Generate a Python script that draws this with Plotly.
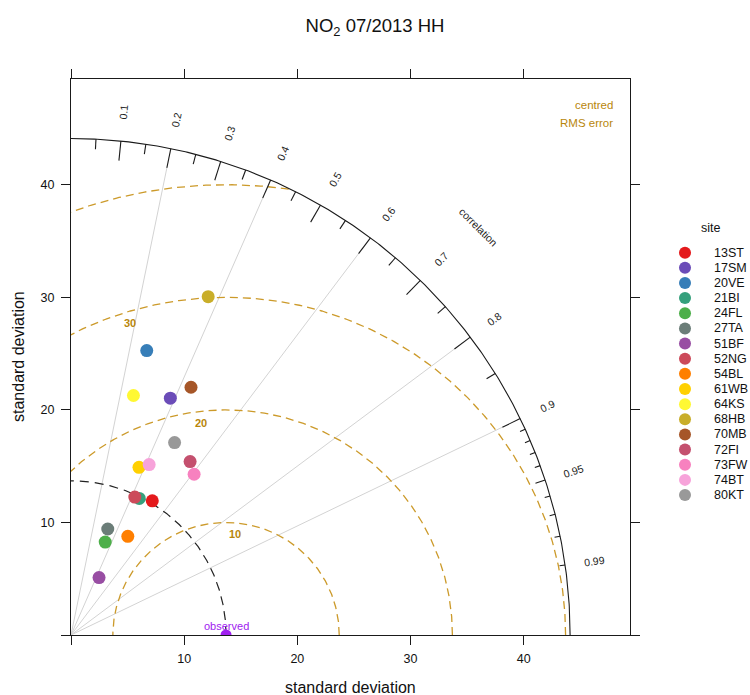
import numpy as np
import plotly.graph_objects as go

# ---------------- data ----------------
sites = ["13ST", "17SM", "20VE", "21BI", "24FL", "27TA", "51BF", "52NG", "54BL",
         "61WB", "64KS", "68HB", "70MB", "72FI", "73FW", "74BT", "80KT"]
sd_model = [13.92, 22.80, 26.14, 13.55, 8.79, 9.96, 5.67, 13.49, 10.10,
            16.06, 21.98, 32.41, 24.43, 18.66, 17.95, 16.64, 19.39]
corr_model = [0.516, 0.385, 0.256, 0.445, 0.344, 0.326, 0.437, 0.418, 0.497,
              0.374, 0.251, 0.374, 0.434, 0.564, 0.606, 0.415, 0.472]
site_colors = ["#E41A1C", "#6B4CB8", "#377EB8", "#35A07C", "#4DAF4A", "#6B7D78",
               "#984EA3", "#CC4A5A", "#FF7F00", "#FFD000", "#FFF833", "#C9AE2A",
               "#A65628", "#C4506E", "#F781BF", "#F7A3DA", "#999999"]
sd_obs = 13.7
sd_max = 44.1
rms_levels = [10, 20, 30, 40]
rms_label_levels = [10, 20, 30]
rms_label_angles = [85, 96.6, 107]
corr_label_vals = [0.1, 0.2, 0.3, 0.4, 0.5, 0.6, 0.7, 0.8, 0.9, 0.95, 0.99]
corr_major = [0.1, 0.2, 0.3, 0.4, 0.5, 0.6, 0.7, 0.8, 0.9]
corr_minor = [0.05, 0.15, 0.25, 0.35, 0.45, 0.55, 0.65, 0.75, 0.85, 0.95]
corr_fine = [0.91, 0.92, 0.93, 0.94, 0.96, 0.97, 0.98, 0.99]
corr_lines = [0.2, 0.4, 0.6, 0.8, 0.9]
axis_ticks = [0, 10, 20, 30, 40]
axis_ticktext = ["", "10", "20", "30", "40"]

W, H = 750, 695
FONT = "Liberation Sans, Arial, sans-serif"
GOLD = "#B8860B"
GOLD_LINE = "#CC9A2A"
INK = "#1a1a1a"

# plot area in pixels
L, R, T, B = 71, 630, 79, 635
xdom = [L / W, R / W]
ydom = [(H - B) / H, (H - T) / H]
rng = [0, 1.12 * sd_max]

fig = go.Figure()

# radial correlation lines
maj_len, min_len, fine_len = 1.75, 0.9, 0.5
lx, ly = [], []
for c in corr_lines:
    th = np.arccos(c)
    lx += [0, (sd_max - maj_len) * np.cos(th), None]
    ly += [0, (sd_max - maj_len) * np.sin(th), None]
fig.add_trace(go.Scatter(x=lx, y=ly, mode="lines", line=dict(color="#D3D3D3", width=1),
                         hoverinfo="skip", showlegend=False))

# centred RMS error contours
phi = np.linspace(0, np.pi, 600)
for lev in rms_levels:
    cx = sd_obs + lev * np.cos(phi)
    cy = lev * np.sin(phi)
    rr = np.sqrt(cx ** 2 + cy ** 2)
    cx = np.where(rr <= sd_max, cx, np.nan)
    cy = np.where(rr <= sd_max, cy, np.nan)
    fig.add_trace(go.Scatter(x=cx, y=cy, mode="lines",
                             line=dict(color=GOLD_LINE, width=1.3, dash="8px,5px"),
                             connectgaps=False, hoverinfo="skip", showlegend=False))

# observed sd arc
th = np.linspace(0, np.pi / 2, 300)
fig.add_trace(go.Scatter(x=sd_obs * np.cos(th), y=sd_obs * np.sin(th), mode="lines",
                         line=dict(color="#222222", width=1.2, dash="9px,6px"),
                         hoverinfo="skip", showlegend=False))

# outer arc
fig.add_trace(go.Scatter(x=sd_max * np.cos(th), y=sd_max * np.sin(th), mode="lines",
                         line=dict(color=INK, width=1.1), hoverinfo="skip", showlegend=False))

# correlation ticks
tx, ty = [], []
for vals, ln in ((corr_major, maj_len), (corr_minor, min_len), (corr_fine, fine_len)):
    for c in vals:
        a = np.arccos(c)
        tx += [sd_max * np.cos(a), (sd_max - ln) * np.cos(a), None]
        ty += [sd_max * np.sin(a), (sd_max - ln) * np.sin(a), None]
fig.add_trace(go.Scatter(x=tx, y=ty, mode="lines", line=dict(color=INK, width=1.1),
                         hoverinfo="skip", showlegend=False))

# observed point
fig.add_trace(go.Scatter(x=[sd_obs], y=[0], mode="markers",
                         marker=dict(color="#A020F0", size=11, line=dict(width=0)),
                         hoverinfo="skip", showlegend=False, cliponaxis=True))

# model points
for s, sd, cr, col in zip(sites, sd_model, corr_model, site_colors):
    a = np.arccos(cr)
    fig.add_trace(go.Scatter(x=[sd * np.cos(a)], y=[sd * np.sin(a)], mode="markers",
                             name=s, marker=dict(color=col, size=13, line=dict(width=0)),
                             showlegend=False))

# legend drawn on its own small axis
n = len(sites)
fig.add_trace(go.Scatter(x=[25] * n, y=list(range(n)), mode="markers", xaxis="x2", yaxis="y2",
                         marker=dict(color=site_colors, size=12, line=dict(width=0)),
                         hoverinfo="skip", showlegend=False))

annotations = []
for i, s in enumerate(sites):
    annotations.append(dict(x=52, y=i, xref="x2", yref="y2", text=s, showarrow=False,
                            xanchor="left", yanchor="middle",
                            font=dict(family=FONT, size=12.5, color="#111")))
# correlation labels
r_lab = 1.06 * sd_max
for c in corr_label_vals:
    a = np.arccos(c)
    annotations.append(dict(x=r_lab * np.cos(a), y=r_lab * np.sin(a), xref="x", yref="y",
                            text=f"{c:g}", showarrow=False, textangle=-np.degrees(a),
                            font=dict(family=FONT, size=10.5, color="#222"),
                            xanchor="center", yanchor="middle"))
a_corr = np.radians(45.2)
annotations.append(dict(x=51.1 * np.cos(a_corr), y=51.1 * np.sin(a_corr), xref="x", yref="y",
                        text="correlation", showarrow=False, textangle=90 - 45.2,
                        font=dict(family=FONT, size=10.5, color="#222"),
                        xanchor="center", yanchor="middle"))
# rms contour labels
for lev, ang in zip(rms_label_levels, rms_label_angles):
    a = np.radians(ang)
    annotations.append(dict(x=sd_obs + (lev - 1) * np.cos(a), y=(lev - 1) * np.sin(a),
                            xref="x", yref="y", text=f"<b>{lev}</b>", showarrow=False,
                            font=dict(family=FONT, size=11, color=GOLD),
                            xanchor="center", yanchor="middle"))
# observed label
annotations.append(dict(x=sd_obs, y=0, xref="x", yref="y", text="observed", showarrow=False,
                        yshift=9, font=dict(family=FONT, size=11, color="#A020F0"),
                        xanchor="center", yanchor="middle"))
# centred RMS error note
annotations.append(dict(x=615 / W, y=(H - 105) / H, xref="paper", yref="paper", text="centred",
                        showarrow=False, xanchor="right", yanchor="middle",
                        font=dict(family=FONT, size=11.5, color=GOLD)))
annotations.append(dict(x=615 / W, y=(H - 123) / H, xref="paper", yref="paper", text="RMS error",
                        showarrow=False, xanchor="right", yanchor="middle",
                        font=dict(family=FONT, size=11.5, color=GOLD)))
# axis titles
annotations.append(dict(x=(L + R) / 2 / W, y=(H - 687) / H, xref="paper", yref="paper",
                        text="standard deviation", showarrow=False, xanchor="center",
                        yanchor="middle", font=dict(family=FONT, size=16, color="#111")))
annotations.append(dict(x=18 / W, y=(H - (T + B) / 2) / H, xref="paper", yref="paper",
                        text="standard deviation", showarrow=False, textangle=-90,
                        xanchor="center", yanchor="middle",
                        font=dict(family=FONT, size=16, color="#111")))
# legend title
annotations.append(dict(x=711 / W, y=(H - 228) / H, xref="paper", yref="paper", text="site",
                        showarrow=False, xanchor="center", yanchor="middle",
                        font=dict(family=FONT, size=12.5, color="#111")))

axis_common = dict(range=rng, tickvals=axis_ticks, ticktext=axis_ticktext, ticks="outside",
                   ticklen=9, tickcolor=INK, tickwidth=1, showline=True, linecolor=INK,
                   linewidth=1, mirror="ticks", showgrid=False, zeroline=False,
                   tickfont=dict(family=FONT, size=12.5, color="#111"), automargin=False,
                   fixedrange=True)

leg_top, leg_bot = 245.1, 502.6
fig.update_layout(
    width=W, height=H,
    margin=dict(l=0, r=0, t=0, b=0),
    paper_bgcolor="white", plot_bgcolor="white",
    showlegend=False,
    title=dict(text="NO<sub>2</sub> 07/2013 HH", x=0.5, xref="paper", xanchor="center",
               y=1 - 26 / H, yref="container", yanchor="middle",
               font=dict(family=FONT, size=18.5, color="#111")),
    xaxis=dict(domain=xdom, ticklabelstandoff=3, **axis_common),
    yaxis=dict(domain=ydom, ticklabelstandoff=4, **axis_common),
    xaxis2=dict(domain=[660 / W, 1], range=[0, 90], visible=False, anchor="y2", fixedrange=True),
    yaxis2=dict(domain=[(H - leg_bot) / H, (H - leg_top) / H], range=[n - 0.5, -0.5],
                visible=False, anchor="x2", fixedrange=True),
    annotations=annotations,
)

fig.write_html("out.html", config={"displayModeBar": False},
               post_script="document.body.style.margin='0px';")
